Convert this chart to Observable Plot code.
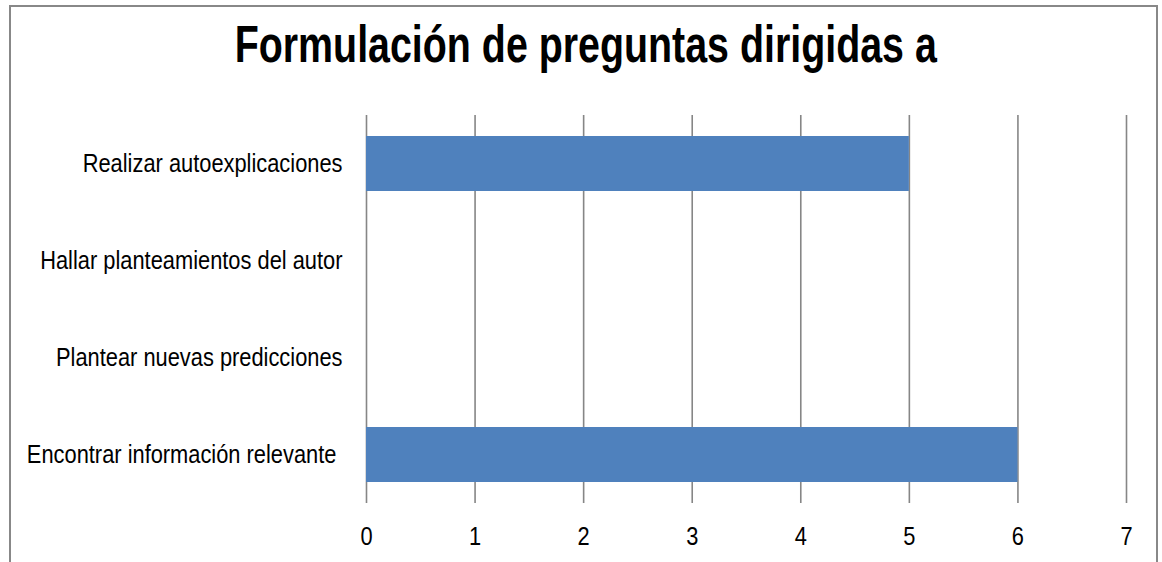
<!DOCTYPE html>
<html>
<head>
<meta charset="utf-8">
<script src="https://cdn.jsdelivr.net/npm/d3@7"></script>
<script src="https://cdn.jsdelivr.net/npm/@observablehq/plot@0.6"></script>
<style>
  html, body { margin: 0; padding: 0; background: #fff; overflow: hidden; width: 1162px; height: 562px; }
  #wrap { position: relative; width: 1162px; height: 562px; font-family: "Liberation Sans", Arial, sans-serif; }
  #frame { position: absolute; left: 9px; top: 5px; width: 1149px; height: 700px; border: 2px solid #888; box-sizing: border-box; pointer-events: none; }
  #titlebox { box-sizing: border-box; height: 100px; padding-top: 18px; width: 1162px; padding-left: 9px; text-align: center; }
  #title { display: inline-block; font-weight: bold; font-size: 52px; line-height: 52px; color: #000; white-space: nowrap; transform: scaleX(0.757); transform-origin: 50% 50%; }
  svg { display: block; }
</style>
</head>
<body>
<div id="wrap">
  <div id="frame"></div>
  <div id="titlebox"><span id="title">Formulación de preguntas dirigidas a</span></div>
  <div id="chart"></div>
</div>
<script>
const categories = [
  "Realizar autoexplicaciones",
  "Hallar planteamientos del autor",
  "Plantear nuevas predicciones",
  "Encontrar información relevante\u00a0"
];
const values = [5, 0, 0, 6];
const xTicks = [0, 1, 2, 3, 4, 5, 6, 7];

const data = categories.map((c, i) => ({category: c, value: values[i]}));

const chart = Plot.plot({
  width: 1162,
  height: 462,
  marginLeft: 366,
  marginRight: 36,
  marginTop: 15,
  marginBottom: 59,
  style: {fontFamily: '"Liberation Sans", Arial, sans-serif', fontSize: "26px", color: "#000", background: "transparent", overflow: "visible"},
  x: {domain: [0, 7], ticks: xTicks, tickSize: 0, tickPadding: 23, label: null},
  y: {domain: categories, paddingInner: 0.43, paddingOuter: 0.215, tickSize: 0, tickPadding: 24, label: null},
  marks: [
    Plot.gridX(xTicks, {stroke: "#868686", strokeOpacity: 1, strokeWidth: 1.6}),
    Plot.barX(data, {x: "value", y: "category", fill: "#4F81BD"}),
    Plot.axisX({ticks: xTicks, tickSize: 0, tickPadding: 23, fontSize: 26, label: null, tickFormat: d3.format("d")}),
    Plot.axisY({tickSize: 0, tickPadding: 24, fontSize: 26, label: null})
  ]
});

document.getElementById("chart").appendChild(chart);

// condense axis text horizontally to mimic a narrow typeface
d3.select(chart).selectAll('g[aria-label="x-axis tick label"] text, g[aria-label="y-axis tick label"] text').each(function() {
  const len = this.getComputedTextLength();
  if (len > 0) {
    this.setAttribute("textLength", (len * 0.84).toFixed(2));
    this.setAttribute("lengthAdjust", "spacingAndGlyphs");
  }
});
</script>
</body>
</html>
